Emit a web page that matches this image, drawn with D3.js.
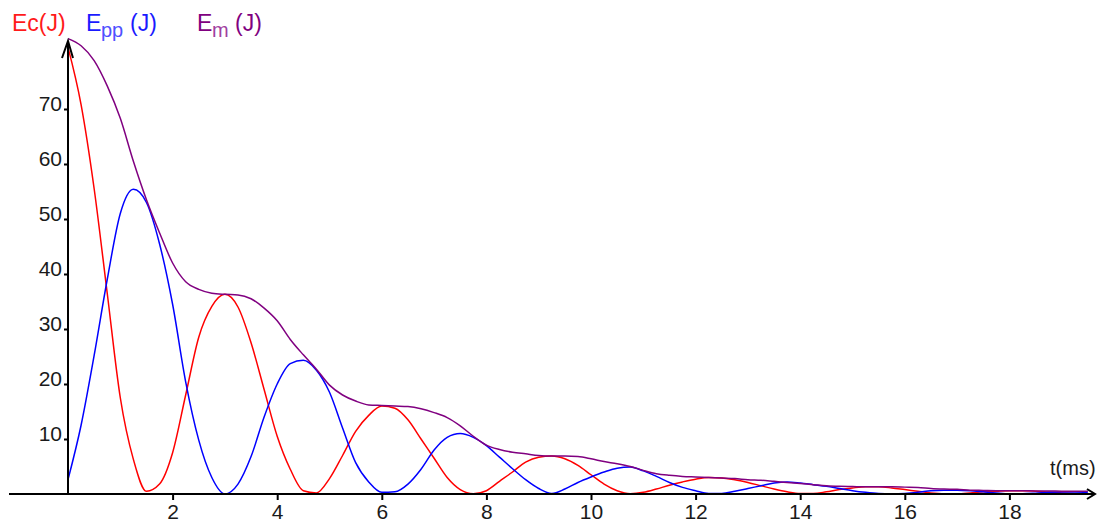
<!DOCTYPE html>
<html>
<head>
<meta charset="utf-8">
<script src="https://cdn.jsdelivr.net/npm/d3@7"></script>
<style>
  html, body { margin: 0; padding: 0; background: #fff; }
  svg { display: block; font-family: "Liberation Sans", Arial, sans-serif; }
</style>
</head>
<body>
<svg id="chart" width="1097" height="524"></svg>
<script>
// sample times (ms)
const tMs = [
  0, 0.25, 0.5, 0.75, 1, 1.25, 1.5, 1.75, 2, 2.25, 2.5, 2.75, 3, 3.25, 3.5, 3.75,
  4, 4.25, 4.5, 4.75, 5, 5.25, 5.5, 5.75, 6, 6.25, 6.5, 6.75, 7, 7.25, 7.5, 7.75,
  8, 8.25, 8.5, 8.75, 9, 9.25, 9.5, 9.75, 10, 10.25, 10.5, 10.75, 11, 11.25, 11.5, 11.75,
  12, 12.25, 12.5, 12.75, 13, 13.25, 13.5, 13.75, 14, 14.25, 14.5, 14.75, 15, 15.25, 15.5, 15.75,
  16, 16.25, 16.5, 16.75, 17, 17.25, 17.5, 17.75, 18, 18.25, 18.5, 18.75, 19, 19.25, 19.5
];

// kinetic energy Ec (J)
const ecJ = [
  81.2, 70.8, 55.5, 36.5, 17.5, 6.3, 0.5, 1.8, 7.5, 18, 28.5, 34.1, 36.3, 34.0, 27.5, 19.0,
  10.5, 4.5, 0.6, 0.2, 2.8, 7.0, 11.4, 14.3, 16.0, 15.6, 13.5, 10.0, 6.5, 3.0, 0.8, 0.05,
  0.6, 2.3, 4.0, 5.8, 6.7, 6.9, 6.4, 5.2, 3.5, 1.8, 0.6, 0.05, 0.3, 0.9, 1.6, 2.2,
  2.7, 3.0, 2.9, 2.6, 2.1, 1.5, 0.9, 0.4, 0.1, 0.1, 0.4, 0.8, 1.1, 1.3, 1.3, 1.1,
  0.8, 0.5, 0.2, 0.05, 0.05, 0.2, 0.4, 0.5, 0.6, 0.6, 0.5, 0.35, 0.2, 0.1, 0.05
];

// potential energy Epp (J)
const eppJ = [
  2.6, 12.5, 25.2, 39, 51, 55.4, 53, 45.5, 34.5, 20.4, 9.8, 3, 0, 1.8, 6.8, 14,
  20, 23.7, 24.3, 22.5, 18.5, 12, 5.7, 2.2, 0.3, 0.4, 1.8, 4.5, 8.0, 10.3, 11.0, 10.3,
  8.8, 6.7, 4.6, 2.6, 1.0, 0.1, 0.9, 2.1, 3.1, 4.0, 4.7, 4.9, 4.2, 3.2, 2.1, 1.2,
  0.6, 0.1, 0.1, 0.5, 1.0, 1.5, 2.0, 2.2, 2.0, 1.7, 1.4, 1.0, 0.6, 0.3, 0.1, 0.05,
  0.1, 0.3, 0.6, 0.7, 0.7, 0.6, 0.4, 0.2, 0.05, 0.05, 0.15, 0.3, 0.35, 0.35, 0.3
];

// mechanical energy Em (J)
const emJ = [
  82.8, 81.5, 78.8, 74.2, 68.3, 60.5, 53.5, 47.5, 42.0, 38.6, 37.2, 36.5, 36.3, 36.2, 35.5, 33.8,
  31.5, 28.1, 25.3, 22.7, 19.8, 18.0, 16.9, 16.2, 16.1, 16.0, 15.9, 15.5, 14.8, 13.9, 12.4, 10.5,
  8.9, 8.1, 7.6, 7.3, 7.0, 6.9, 6.9, 6.8, 6.4, 5.9, 5.5, 5.0, 4.3, 3.7, 3.4, 3.2,
  3.1, 3.0, 2.9, 2.8, 2.6, 2.5, 2.3, 2.1, 1.9, 1.7, 1.5, 1.4, 1.35, 1.3, 1.3, 1.3,
  1.25, 1.2, 1.0, 0.9, 0.85, 0.7, 0.65, 0.6, 0.6, 0.6, 0.55, 0.55, 0.5, 0.5, 0.5
];

const xTicks = [2, 4, 6, 8, 10, 12, 14, 16, 18];
const yTicks = [10, 20, 30, 40, 50, 60, 70];

const series = [
  { name: "Ec", values: ecJ, color: "#ff0000" },
  { name: "Epp", values: eppJ, color: "#0000ff" },
  { name: "Em", values: emJ, color: "#800080" },
];

const svg = d3.select("#chart");

// Scales: t = 0 sits on the vertical axis, E = 0 on the horizontal one
const x = d3.scaleLinear().domain([0, 20]).range([68, 1114]);
const y = d3.scaleLinear().domain([0, 80]).range([494, 54]);

// Ticks and labels
const yAxis = d3.axisLeft(y).tickValues(yTicks).tickSize(4).tickPadding(2);
const gy = svg.append("g").attr("transform", `translate(${x(0)},0)`).call(yAxis);
gy.select(".domain").remove();
gy.selectAll(".tick line").attr("stroke", "#000").attr("stroke-width", 2);
gy.selectAll(".tick text")
  .attr("dy", "0.05em")
  .style("font-size", "21px")
  .style("font-family", "'Liberation Sans', Arial, sans-serif")
  .attr("fill", "#1a1a1a");

const xAxis = d3.axisBottom(x).tickValues(xTicks).tickSize(6).tickPadding(4);
const gx = svg.append("g").attr("transform", `translate(0,${y(0)})`).call(xAxis);
gx.select(".domain").remove();
gx.selectAll(".tick line").attr("stroke", "#000").attr("stroke-width", 2);
gx.selectAll(".tick text")
  .style("font-size", "21px")
  .style("font-family", "'Liberation Sans', Arial, sans-serif")
  .attr("fill", "#1a1a1a");

// Curves
const line = d3
  .line()
  .x((d, i) => x(tMs[i]))
  .y((d) => y(d))
  .curve(d3.curveMonotoneX);

svg
  .append("g")
  .selectAll("path")
  .data(series)
  .enter()
  .append("path")
  .attr("d", (d) => line(d.values))
  .attr("fill", "none")
  .attr("stroke", (d) => d.color)
  .attr("stroke-width", 1.5);

// Axis lines with arrows
const axes = svg.append("g").attr("stroke", "#000").attr("stroke-width", 2).attr("fill", "none");
axes.append("line").attr("x1", 9).attr("x2", 1095).attr("y1", y(0)).attr("y2", y(0));
axes.append("line").attr("x1", x(0)).attr("x2", x(0)).attr("y1", 41).attr("y2", y(0));
axes.append("path").attr("d", `M${x(0) - 6},58 L${x(0)},41 L${x(0) + 5},58`);
axes.append("path").attr("d", `M1087,${y(0) - 5} L1095,${y(0)} L1087,${y(0) + 5}`);

// Legend labels
const labels = svg.append("g").style("font-family", "'Liberation Sans', Arial, sans-serif");
labels.append("text").attr("x", 12).attr("y", 31).attr("fill", "#ff1a1a").style("font-size", "23px").text("Ec(J)");

labels.append("text").attr("x", 86).attr("y", 31).attr("fill", "#1a1aff").style("font-size", "23px").text("E");
labels.append("text").attr("x", 101).attr("y", 37).attr("fill", "#5050ff").style("font-size", "20px").text("pp");
labels.append("text").attr("x", 130).attr("y", 31).attr("fill", "#1a1aff").style("font-size", "23px").text("(J)");

labels.append("text").attr("x", 197).attr("y", 31).attr("fill", "#800080").style("font-size", "23px").text("E");
labels.append("text").attr("x", 212).attr("y", 37).attr("fill", "#a040a0").style("font-size", "20px").text("m");
labels.append("text").attr("x", 235).attr("y", 31).attr("fill", "#800080").style("font-size", "23px").text("(J)");

labels.append("text").attr("x", 1050).attr("y", 475).attr("fill", "#1a1a1a").style("font-size", "20px").text("t(ms)");
</script>
</body>
</html>
